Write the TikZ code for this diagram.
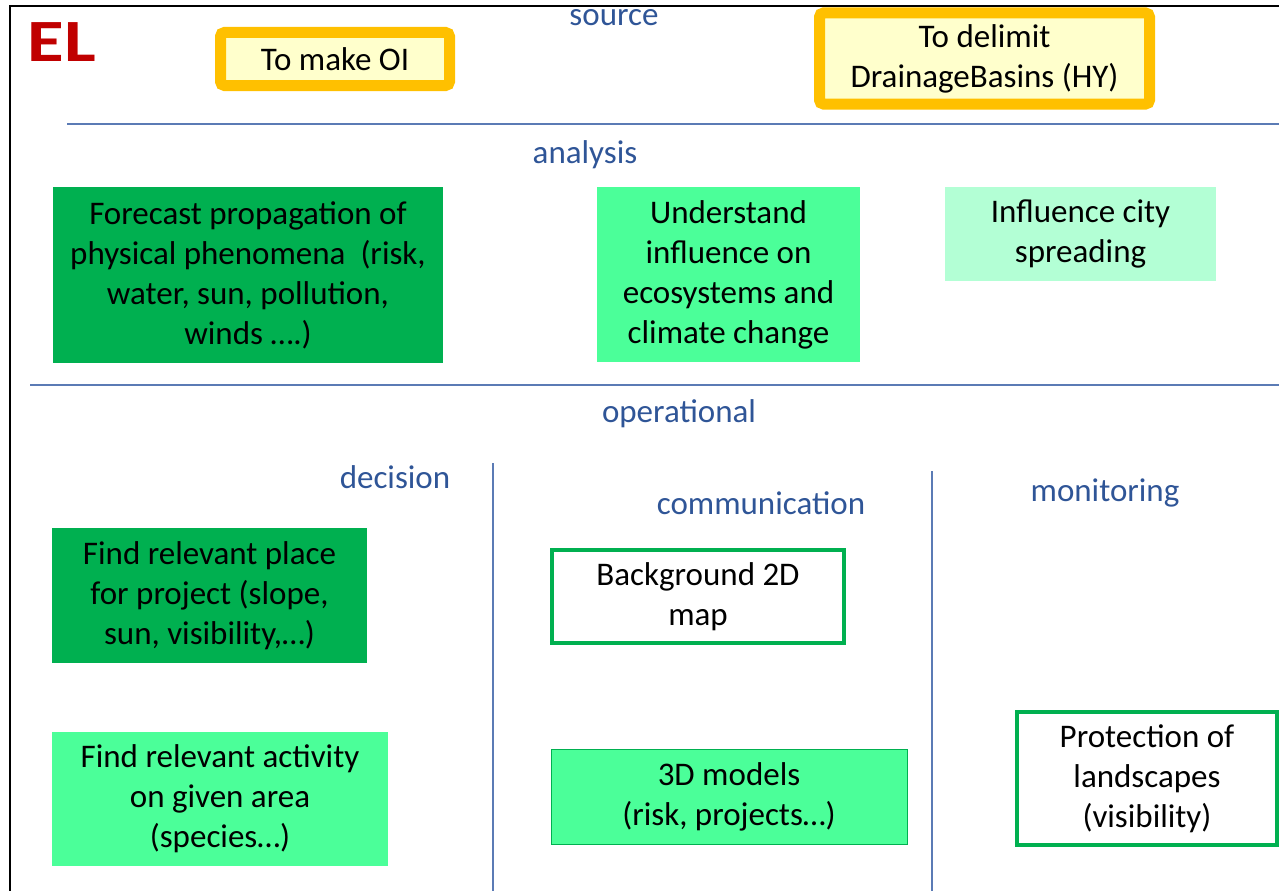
\documentclass[tikz,border=0pt]{standalone}
\usepackage{fontspec}
\setmainfont{Carlito}
\usetikzlibrary{positioning}

\definecolor{lblblue}{HTML}{2F5597}
\definecolor{sepblue}{HTML}{5B7BB5}
\definecolor{srcorange}{HTML}{FFC000}
\definecolor{srcyellow}{HTML}{FFFFCC}
\definecolor{darkgreen}{HTML}{00B050}
\definecolor{midgreen}{HTML}{4BFF99}
\definecolor{palegreen}{HTML}{B3FFD5}
\definecolor{elred}{HTML}{C00000}

\begin{document}
\begin{tikzpicture}[x=1pt,y=-1pt,
    every node/.style={font=\fontsize{33}{40}\selectfont, align=center, inner sep=0pt},
    lbl/.style={text=lblblue},
    src/.style={draw=srcorange, fill=srcyellow, line width=11pt, rounded corners=4pt},
    dark/.style={fill=darkgreen},
    mid/.style={fill=midgreen},
    pale/.style={fill=palegreen},
    outlined/.style={draw=darkgreen, line width=4pt, fill=white},
    sep/.style={draw=sepblue, line width=1.2pt}]
  \useasboundingbox (0,0) rectangle (1279,891);
  \draw[line width=2pt] (10,891) -- (10,6) -- (1279,6);

  \node[text=elred, font=\fontsize{60}{62}\selectfont\bfseries] (el) at (62,42) {\scalebox{1.25}[1]{EL}};

  % source
  \node[lbl] (source) at (614,18) {source};
  \node[src, minimum width=229, minimum height=53] (oi) at (335,59) {To make OI};
  \node[src, minimum width=330, minimum height=91] (hy) at (984.5,58.5) {To delimit\\DrainageBasins (HY)};
  \draw[sep] (67,124) -- (1279,124);

  % analysis
  \node[lbl] (analysis) at (585,155) {analysis};
  \node[dark, minimum width=390, minimum height=176] (forecast) at (248,275)
    {Forecast propagation of\\physical phenomena\ \ (risk,\\water, sun, pollution,\\winds ….)};
  \node[mid, minimum width=263, minimum height=175] (understand) at (728.5,274.5)
    {Understand\\influence on\\ecosystems and\\climate change};
  \node[pale, minimum width=271, minimum height=94] (city) at (1080.5,234)
    {Influence city\\spreading};
  \draw[sep] (30,385) -- (1279,385);

  % operational
  \node[lbl] (operational) at (679,414) {operational};
  \node[lbl] (decision) at (395,477) {decision};
  \node[lbl] (communication) at (761,503) {communication};
  \node[lbl] (monitoring) at (1105,493) {monitoring};
  \draw[sep] (493,463) -- (493,891);
  \draw[sep] (932,471) -- (932,891);

  \node[dark, minimum width=315, minimum height=135] (place) at (209.5,595.5)
    {Find relevant place\\for project (slope,\\sun, visibility,…)};
  \node[mid, minimum width=336, minimum height=134] (activity) at (220,799)
    {Find relevant activity\\on given area\\(species…)};
  \node[outlined, minimum width=292, minimum height=93] (map2d) at (698,596.5)
    {Background 2D\\map};
  \node[mid, draw=darkgreen, line width=0.8pt, minimum width=356, minimum height=95] (models3d) at (729,796.5)
    {3D models\\(risk, projects…)};
  \node[outlined, minimum width=260, minimum height=133] (protection) at (1147,778.5)
    {Protection of\\landscapes\\(visibility)};
\end{tikzpicture}
\end{document}
